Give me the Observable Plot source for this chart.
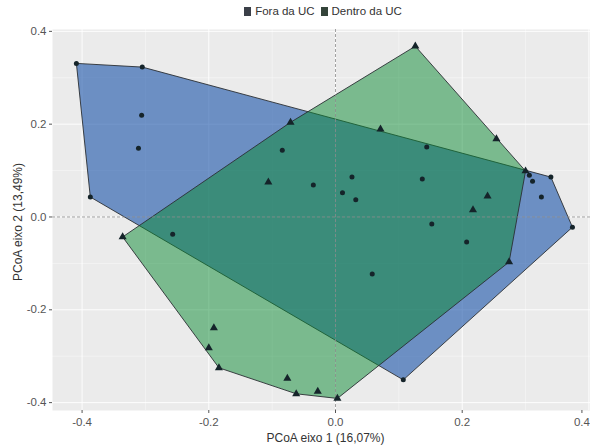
<!DOCTYPE html>
<html><head><meta charset="utf-8">
<script src="https://cdn.jsdelivr.net/npm/d3@7"></script>
<script src="https://cdn.jsdelivr.net/npm/@observablehq/plot@0.6"></script>
<style>
body{margin:0;background:#fff;font-family:"Liberation Sans",Arial,sans-serif;}
#legend{height:22px;display:flex;justify-content:center;align-items:center;font-size:11.5px;color:#333;padding-left:56px;box-sizing:border-box;}
#legend .it{display:flex;align-items:center;margin:0 3px;}
#legend .sw{width:7px;height:9px;margin-right:4px;}
</style></head><body>
<div id="legend"></div><div id="chart"></div>
<script>
const groups = ["Fora da UC", "Dentro da UC"];
const groupColors = ["#0f4ba5", "#098931"];
const groupOpacity = [0.58, 0.5];
const foraX = [-0.409,-0.305,-0.306,-0.311,-0.387,-0.257,-0.084,-0.035,0.026,0.011,0.032,0.144,0.137,0.152,0.207,0.058,0.107,0.306,0.311,0.340,0.325,0.374];
const foraY = [0.331,0.323,0.219,0.148,0.043,-0.037,0.144,0.069,0.086,0.052,0.037,0.151,0.082,-0.015,-0.054,-0.123,-0.351,0.090,0.077,0.086,0.043,-0.022];
const dentroX = [-0.336,-0.071,-0.106,0.071,0.126,0.254,0.300,0.240,0.217,0.274,0.003,-0.028,-0.062,-0.076,-0.184,-0.200,-0.192];
const dentroY = [-0.043,0.204,0.075,0.189,0.368,0.168,0.099,0.045,0.015,-0.097,-0.391,-0.376,-0.381,-0.348,-0.325,-0.282,-0.239];
const xTicks = [-0.4,-0.2,0,0.2,0.4];
const yTicks = [-0.4,-0.2,0,0.2,0.4];
const minorTicks = [-0.3,-0.1,0.1,0.3];
const xTitle = "PCoA eixo 1 (16,07%)";
const yTitle = "PCoA eixo 2 (13,49%)";

const fora = foraX.map((x,i)=>({group:groups[0], x, y:foraY[i]}));
const dentro = dentroX.map((x,i)=>({group:groups[1], x, y:dentroY[i]}));

// legend
const leg = document.getElementById("legend");
groups.forEach((g,i)=>{
  const it = document.createElement("div"); it.className="it";
  const sw = document.createElement("div"); sw.className="sw";
  sw.style.background = i===0 ? "#3b3f48" : "#34443a";
  const t = document.createElement("span"); t.textContent = g;
  it.appendChild(sw); it.appendChild(t); leg.appendChild(it);
});

const fmt = d => d.toFixed(1);
const axisStyle = {tickFormat: fmt, tickSize: 3, stroke: "#555", fill: "#555", fontSize: 11.5, label: null};
const chart = Plot.plot({
  width: 590, height: 425,
  marginLeft: 52, marginRight: 0, marginTop: 7, marginBottom: 37,
  style: {fontFamily: '"Liberation Sans", Arial, sans-serif', fontSize: "11px", background: "white"},
  x: {domain: [-0.4467, 0.4025]},
  y: {domain: [-0.417, 0.404]},
  color: {domain: groups, range: groupColors},
  marks: [
    Plot.frame({fill: "#ebebeb"}),
    Plot.gridX(minorTicks, {stroke: "white", strokeOpacity: 0.8, strokeWidth: 0.5}),
    Plot.gridY(minorTicks, {stroke: "white", strokeOpacity: 0.8, strokeWidth: 0.5}),
    Plot.gridX(xTicks, {stroke: "white", strokeOpacity: 0.9, strokeWidth: 1}),
    Plot.gridY(yTicks, {stroke: "white", strokeOpacity: 0.9, strokeWidth: 1}),
    Plot.hull(fora, {x: "x", y: "y", fill: "group", fillOpacity: groupOpacity[0], stroke: "#2a2f33", strokeWidth: 0.9}),
    Plot.hull(dentro, {x: "x", y: "y", fill: "group", fillOpacity: groupOpacity[1], stroke: "#2a2f33", strokeWidth: 0.9}),
    Plot.ruleX([0], {stroke: "#8a8a8a", strokeDasharray: "3,2", strokeWidth: 0.8}),
    Plot.ruleY([0], {stroke: "#8a8a8a", strokeDasharray: "3,2", strokeWidth: 0.8}),
    Plot.dot(fora, {x: "x", y: "y", symbol: "circle", r: 2.5, fill: "#15242a", stroke: "none"}),
    Plot.dot(dentro, {x: "x", y: "y", symbol: "triangle", r: 3, fill: "#15242a", stroke: "none"}),
    Plot.axisX(xTicks.slice(0, -1), {...axisStyle, tickPadding: 4}),
    Plot.axisX(xTicks.slice(-1), {...axisStyle, tickPadding: 4, dx: -7}),
    Plot.axisY(yTicks, {...axisStyle, tickPadding: 3}),
    Plot.text([xTitle], {text: d=>d, frameAnchor: "bottom", dy: 31, dx: 4, fontSize: 12, fill: "#333"}),
    Plot.text([yTitle], {text: d=>d, frameAnchor: "left", textAnchor: "middle", rotate: -90, dx: -34, dy: 2, fontSize: 12, fill: "#333"})
  ]
});
document.getElementById("chart").appendChild(chart);
</script>
</body></html>
